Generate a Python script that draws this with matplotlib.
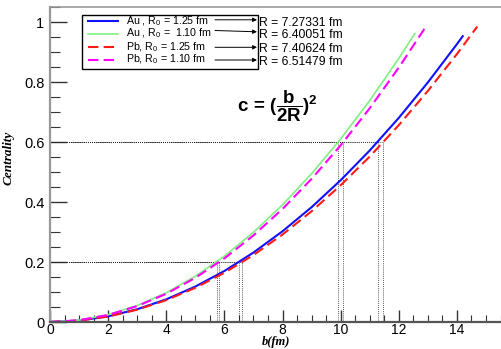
import matplotlib
matplotlib.use("Agg")
import matplotlib.pyplot as plt
from matplotlib.lines import Line2D
from matplotlib.patches import Rectangle, FancyArrowPatch

plt.rcParams['font.family'] = ['Liberation Sans', 'DejaVu Sans']
plt.rcParams['mathtext.fontset'] = 'custom'
plt.rcParams['mathtext.rm'] = 'Liberation Sans'
plt.rcParams['mathtext.it'] = 'Liberation Sans:italic'
plt.rcParams['mathtext.bf'] = 'Liberation Sans:bold'
plt.rcParams['mathtext.default'] = 'regular'

# centrality curves, c vs b(fm)
b_au125 = [0, 1, 2, 3, 4, 5, 6, 7, 8, 9, 10, 11, 12, 13, 14, 14.2]
c_au125 = [0, .0047, .0189, .0425, .0756, .1181, .1701, .2316, .3025, .3828,
           .4726, .5718, .6805, .7987, .9263, .9529]
b_au110 = [0, 1, 2, 3, 4, 5, 6, 7, 8, 9, 10, 11, 12, 12.55]
c_au110 = [0, .0061, .0244, .0549, .0976, .1526, .2197, .2990, .3906, .4943,
           .6103, .7384, .8788, .9612]
b_pb125 = [0, 1, 2, 3, 4, 5, 6, 7, 8, 9, 10, 11, 12, 13, 14, 14.7]
c_pb125 = [0, .0046, .0182, .0410, .0729, .1139, .1641, .2233, .2917, .3692,
           .4558, .5515, .6563, .7703, .8933, .9849]
b_pb110 = [0, 1, 2, 3, 4, 5, 6, 7, 8, 9, 10, 11, 12, 12.9]
c_pb110 = [0, .0059, .0236, .0530, .0942, .1473, .2121, .2886, .3770, .4771,
           .5890, .7127, .8482, .9802]

labels = [r"Au , R$_0$ = 1.25 fm", r"Au , R$_0$ =  1.10 fm",
          r"Pb, R$_0$ = 1.25 fm", r"Pb, R$_0$ = 1.10 fm"]
radii = ["R = 7.27331 fm", "R = 6.40051 fm", "R = 7.40624 fm", "R = 6.51479 fm"]

# b where c = 0.2 and c = 0.6 (dotted guides)
c_levels = [0.2, 0.6]
b_at_02 = [6.51, 5.73, 6.62, 5.83]
b_at_06 = [11.27, 9.92, 11.47, 10.09]

W, H = 502, 349
fig = plt.figure(figsize=(W / 100, H / 100), dpi=100)
ax = fig.add_axes([50 / W, 27 / H, 1 - 50 / W, 315 / H])

def fx(x):
    return x / W

def fy(y):
    return 1 - y / H

# dotted guide lines
for lvl, bs in zip(c_levels, [b_at_02, b_at_06]):
    for bv in bs:
        ax.plot([0, bv], [lvl, lvl], color='#222222', ls=(0, (1, 1.5)), lw=0.6)
        ax.plot([bv, bv], [0, lvl], color='#222222', ls=(0, (1, 1.5)), lw=0.6)

styles = [dict(color='#1010ff', ls='-', lw=1.5),
          dict(color='#80f080', ls='-', lw=1.2),
          dict(color='#ff1a1a', ls=(0, (5, 2.5)), lw=1.5),
          dict(color='#ff00ff', ls=(0, (5, 2.5)), lw=1.5)]
curves = [(b_au125, c_au125), (b_au110, c_au110), (b_pb125, c_pb125), (b_pb110, c_pb110)]
for (bx, cy), st in zip(curves, styles):
    ax.plot(bx, cy, **st)

ax.set_xlim(0, 15.55)
ax.set_ylim(0, 1.05)
ax.set_xticks([0, 2, 4, 6, 8, 10, 12, 14])
ax.set_xticks([i * 0.5 for i in range(32)], minor=True)
ax.set_yticks([0, 0.2, 0.4, 0.6, 0.8, 1])
ax.set_yticklabels(['0', '0.2', '0.4', '0.6', '0.8', '1'])
ax.set_yticks([i * 0.05 for i in range(22)], minor=True)
ax.tick_params(axis='both', which='both', direction='in', colors='#333333',
               labelcolor='black', labelsize=10.5)
ax.tick_params(axis='y', which='major', length=12, width=1, pad=4)
ax.tick_params(axis='y', which='minor', length=7, width=0.8)
ax.tick_params(axis='x', which='major', length=9, width=1, pad=0.5, labelsize=10)
ax.tick_params(axis='x', which='minor', length=5, width=0.8)
ax.spines['right'].set_visible(False)
ax.spines['left'].set_color('#999999')
ax.spines['left'].set_linewidth(1.6)
ax.spines['top'].set_color('#999999')
ax.spines['top'].set_linewidth(1.2)
ax.spines['bottom'].set_color('#555555')
ax.spines['bottom'].set_linewidth(1.6)

ax.set_xlabel('b(fm)', family='Liberation Serif', style='italic', weight='bold',
              fontsize=9, va='bottom')
ax.set_ylabel('Centrality', family='Liberation Serif', style='italic', weight='bold',
              fontsize=9.5)
ax.xaxis.set_label_coords(0.5, -0.083)
ax.yaxis.set_label_coords(-0.078, 0.52)

# formula
ax.text(6.45, 0.72, r'$\mathbf{c\,=\,(\dfrac{b}{2R})^2}$', fontsize=13.5,
        ha='left', va='center')

# legend box drawn by hand, with arrows to the radius values
fig.patches.append(Rectangle((fx(82), fy(68.7)), fx(258) - fx(82), fy(15.3) - fy(68.7),
                             transform=fig.transFigure, fill=False,
                             edgecolor='black', lw=1.0))
row_y = [21.3, 33.7, 47.3, 59.7]
arrow_y = [(19.8, 19.8), (30.5, 31.8), (47.3, 47.3), (60.0, 60.0)]
r_y = [23.3, 35.5, 49.0, 61.7]
for i, st in enumerate(styles):
    fig.lines.append(Line2D([fx(88), fx(118)], [fy(row_y[i]), fy(row_y[i])],
                            transform=fig.transFigure, **st))
    fig.text(fx(126), fy(row_y[i]), labels[i], fontsize=7.7, ha='left', va='center')
    y0, y1 = arrow_y[i]
    fig.patches.append(FancyArrowPatch(
        (fx(215), fy(y0)), (fx(257), fy(y1)), transform=fig.transFigure,
        arrowstyle='-|>', mutation_scale=6, lw=0.7, color='black',
        shrinkA=0, shrinkB=0))
    fig.text(fx(259.5), fy(r_y[i]), radii[i], fontsize=8.7, ha='left', va='center')

fig.savefig('out.png', dpi=100)
